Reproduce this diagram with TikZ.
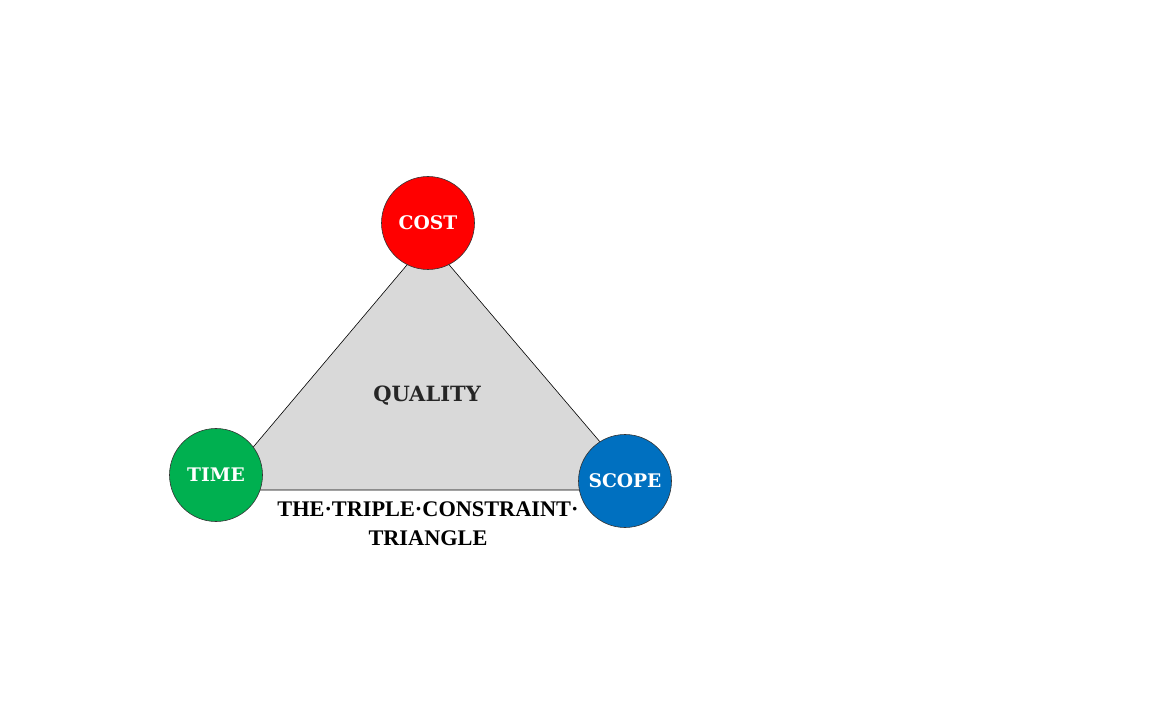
\documentclass[tikz,border=0pt]{standalone}
\usepackage{fontspec}
\newfontfamily\labfont{DejaVu Serif}[BoldFont={DejaVu Serif Bold}]
\newfontfamily\capfont{Liberation Serif}
\definecolor{tri}{HTML}{D9D9D9}
\definecolor{costred}{HTML}{FF0000}
\definecolor{timegreen}{HTML}{00B050}
\definecolor{scopeblue}{HTML}{0070C0}
\definecolor{qualtext}{HTML}{262626}
\begin{document}
\begin{tikzpicture}[x=1pt,y=-1pt,
  ball/.style={circle,draw=black!80,line width=0.6pt,minimum size=93pt,inner sep=0pt,text=white,font=\labfont\bfseries\fontsize{18.7}{19}\selectfont},
  edge/.style={draw=black,line width=0.6pt}]
\useasboundingbox (0,0) rectangle (1173,708);
\coordinate (top) at (428,240);
\coordinate (bl) at (217,490);
\coordinate (br) at (641,490);
\fill[tri] (top) -- (bl) -- (br) -- cycle;
\draw[edge] (top) -- (bl) -- (br) -- cycle;
\node[ball,fill=costred] (cost) at (428,223) {COST};
\node[ball,fill=timegreen] (time) at (216,475) {TIME};
\node[ball,fill=scopeblue] (scope) at (625,481) {SCOPE};
\node[text=qualtext,font=\labfont\bfseries\fontsize{21}{21}\selectfont] (quality) at (427,396) {QUALITY};
\node[align=center,font=\capfont\bfseries\fontsize{22.3}{29}\selectfont] (caption) at (428,524) {THE·TRIPLE·CONSTRAINT·\\TRIANGLE};
\end{tikzpicture}
\end{document}
